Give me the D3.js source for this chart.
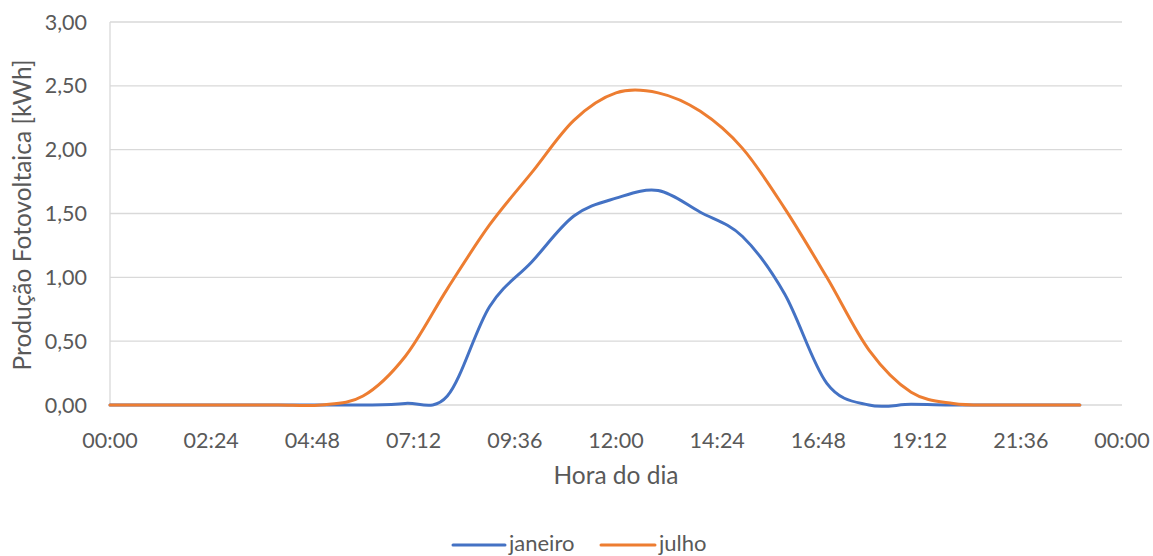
<!DOCTYPE html>
<html><head><meta charset="utf-8">
<script src="https://cdn.jsdelivr.net/npm/d3@7"></script>
<style>body{margin:0;background:#fff}svg{display:block}text{font-family:Lato,"Open Sans",sans-serif;fill:#595959}</style>
</head><body>
<svg id="c" width="1153" height="556"></svg>
<script>
const hours = [0,1,2,3,4,5,6,7,8,9,10,11,12,13,14,15,16,17,18,19,20,21,22,23];
const janeiro = [0,0,0,0,0,0,0,0.012,0.07,0.77,1.12,1.48,1.62,1.68,1.51,1.32,0.87,0.17,0,0.005,0,0,0,0];
const julho = [0,0,0,0,0,0,0.07,0.38,0.91,1.41,1.82,2.23,2.445,2.445,2.30,2.01,1.54,1.0,0.43,0.1,0.012,0,0,0];
const seriesNames = ["janeiro","julho"];
const xTickLabels = ["00:00","02:24","04:48","07:12","09:36","12:00","14:24","16:48","19:12","21:36","00:00"];
const yTickLabels = ["0,00","0,50","1,00","1,50","2,00","2,50","3,00"];
const yTicks = [0,0.5,1,1.5,2,2.5,3];

const svg = d3.select("#c");
const L=110, R=1122, T=22, B=405;
const x = d3.scaleLinear().domain([0,24]).range([L,R]);
const y = d3.scaleLinear().domain([0,3]).range([B,T]);
const colors = ["#4472C4","#ED7D31"];

// gridlines
svg.append("g").selectAll("line").data(yTicks).join("line")
  .attr("x1",L).attr("x2",R).attr("y1",d=>y(d)).attr("y2",d=>y(d))
  .attr("stroke","#D9D9D9").attr("stroke-width",1.3);
svg.append("line").attr("x1",L).attr("x2",L).attr("y1",T).attr("y2",B)
  .attr("stroke","#D9D9D9").attr("stroke-width",1.3);

// y tick labels
svg.append("g").selectAll("text").data(yTicks).join("text")
  .attr("x",87).attr("y",d=>y(d)+7.5).attr("text-anchor","end")
  .style("font-size","21.5px").text((d,i)=>yTickLabels[i]);
// x tick labels
svg.append("g").selectAll("text").data(xTickLabels).join("text")
  .attr("x",(d,i)=>x(i*2.4)).attr("y",448).attr("text-anchor","middle")
  .style("font-size","21.5px").text(d=>d);

// axis titles
svg.append("text").attr("x",616).attr("y",484).attr("text-anchor","middle")
  .style("font-size","24.5px").text("Hora do dia");
svg.append("text").attr("transform","translate(31,215) rotate(-90)").attr("text-anchor","middle")
  .style("font-size","24.5px").text("Produção Fotovoltaica [kWh]");

// lines
const line = d3.line().x((d,i)=>x(hours[i])).y(d=>y(d)).curve(d3.curveCardinal.tension(0));
[janeiro,julho].forEach((s,k)=>{
  svg.append("path").attr("d",line(s)).attr("fill","none")
    .attr("stroke",colors[k]).attr("stroke-width",3).attr("stroke-linejoin","round").attr("stroke-linecap","round");
});

// legend
const lg = [{x1:453,x2:505,tx:509},{x1:601,x2:655,tx:659}];
seriesNames.forEach((n,k)=>{
  svg.append("line").attr("x1",lg[k].x1).attr("x2",lg[k].x2).attr("y1",545).attr("y2",545)
    .attr("stroke",colors[k]).attr("stroke-width",3).attr("stroke-linecap","round");
  svg.append("text").attr("x",lg[k].tx).attr("y",550.5).style("font-size","22px").text(n);
});
</script>
</body></html>
